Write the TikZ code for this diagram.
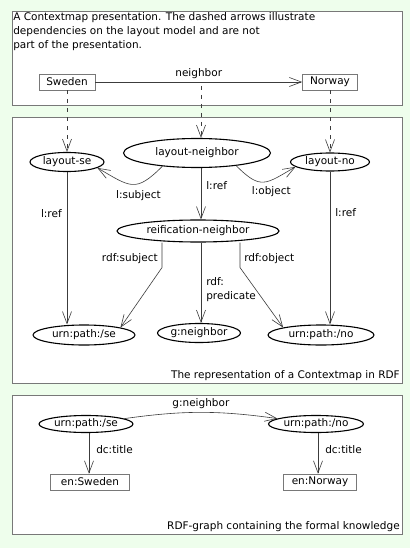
\documentclass[tikz,border=0pt]{standalone}
\usepackage{fontspec}
\setmainfont{DejaVu Sans}
\usepackage{tikz}
\usetikzlibrary{shapes,arrows.meta,positioning}

\definecolor{bggreen}{RGB}{238,254,236}
\definecolor{framegray}{RGB}{120,120,120}
\definecolor{linegray}{RGB}{60,60,60}

\begin{document}
\begin{tikzpicture}[x=1pt,y=-1pt,->,
  >={Straight Barb[length=12pt,width=9pt]},
  every node/.style={font=\fontsize{10.5}{14}\selectfont,inner sep=1pt},
  every path/.append style={draw=linegray,line width=0.6pt}]
  \tikzstyle{res} = [ellipse,draw=black,line width=1.1pt,inner sep=0pt]
  \tikzstyle{lit} = [rectangle,draw=framegray,line width=0.6pt,inner sep=0pt,minimum height=16pt]
  \tikzstyle{dep} = [dash pattern=on 4pt off 5pt]
  \tikzstyle{panel} = [-,draw=framegray,fill=white,line width=0.8pt]
  % background and panels
  \fill[bggreen,draw=none] (0,0) rectangle (410,548);
  \draw[panel] (12,11) rectangle (402,105);
  \draw[panel] (12,117) rectangle (402,383);
  \draw[panel] (12,395) rectangle (402,534);
  \node (0_1) [anchor=north west,align=left,inner sep=0pt] at (13,12.5)
    {A Contextmap presentation. The dashed arrows illustrate\\
     dependencies on the layout model and are not\\
     part of the presentation.};
  \node (0_2) [anchor=south east] at (401,382) {The representation of a Contextmap in RDF};
  \node (0_3) [anchor=south east] at (401,533) {RDF-graph containing the formal knowledge};
  % presentation
  \node (1_1) [lit,minimum width=56pt] at (67,82) {Sweden};
  \node (1_2) [lit,minimum width=55pt] at (330,82) {Norway};
  \draw (1_1) -- node (1_3) [above=2pt] {neighbor} (1_2);
  % layout model
  \node (2_1) [res,minimum width=74pt,minimum height=19pt] at (67,162) {layout-se};
  \node (2_2) [res,minimum width=147pt,minimum height=29pt] at (197,153) {layout-neighbor};
  \node (2_3) [res,minimum width=79pt,minimum height=18pt] at (330,162) {layout-no};
  \node (2_5) [res,minimum width=162pt,minimum height=22pt] at (198,231) {reification-neighbor};
  \node (2_4) [res,minimum width=102pt,minimum height=20pt] at (84,335) {urn:path:/se};
  \node (2_6) [res,minimum width=83pt,minimum height=19pt] at (199,333) {g:neighbor};
  \node (2_7) [res,minimum width=106pt,minimum height=20pt] at (321,335) {urn:path:/no};
  \draw[dep] (1_1) -- (2_1);
  \draw[dep] (1_3.south -| 201,0) ++(0,6) -- (2_2.north -| 201,0);
  \draw[dep] (1_2) -- (2_3);
  \draw (2_2.201) to[out=225,in=-30,looseness=1.5] node[below=5pt,pos=.38] {l:subject} (2_1.349);
  \draw (2_2.342) to[out=-45,in=210,looseness=1.5] node[below=5pt,pos=.65] {l:object} (2_3.188);
  \draw (2_2.south -| 201,0) -- node[right=4pt,pos=.35] {l:ref} (2_5.north -| 201,0);
  \draw (2_1) -- node[left=4pt,pos=.27] {l:ref} (2_1 |- 2_4.north);
  \draw (2_3) -- node[right=4pt,pos=.27] {l:ref} (2_3 |- 2_7.north);
  \draw (2_5.south -| 162,0) -- node[left=3pt,pos=.65] {rdf:subject} ++(0,25) -- (2_4.north east);
  \draw (2_5.south -| 240,0) -- node[right=3pt,pos=.65] {rdf:object} ++(0,25) -- (2_7.north west);
  \draw (2_5.south -| 201,0) -- node[right=4pt,pos=.58,align=left] {rdf:\\predicate} (2_6.north -| 201,0);
  % formal knowledge
  \node (3_1) [res,minimum width=94pt,minimum height=17pt] at (86,424) {urn:path:/se};
  \node (3_2) [res,minimum width=95pt,minimum height=17pt] at (316,424) {urn:path:/no};
  \node (3_3) [lit,minimum width=79pt] at (90,482) {en:Sweden};
  \node (3_4) [lit,minimum width=73pt] at (320,482) {en:Norway};
  \draw (3_1) to[bend left=8] node[above=2pt] {g:neighbor} (3_2);
  \draw (3_1.south -| 89,0) -- node[right=6pt,pos=.4] {dc:title} (3_3.north -| 89,0);
  \draw (3_2.south -| 318,0) -- node[right=6pt,pos=.4] {dc:title} (3_4.north -| 318,0);
\end{tikzpicture}
\end{document}
